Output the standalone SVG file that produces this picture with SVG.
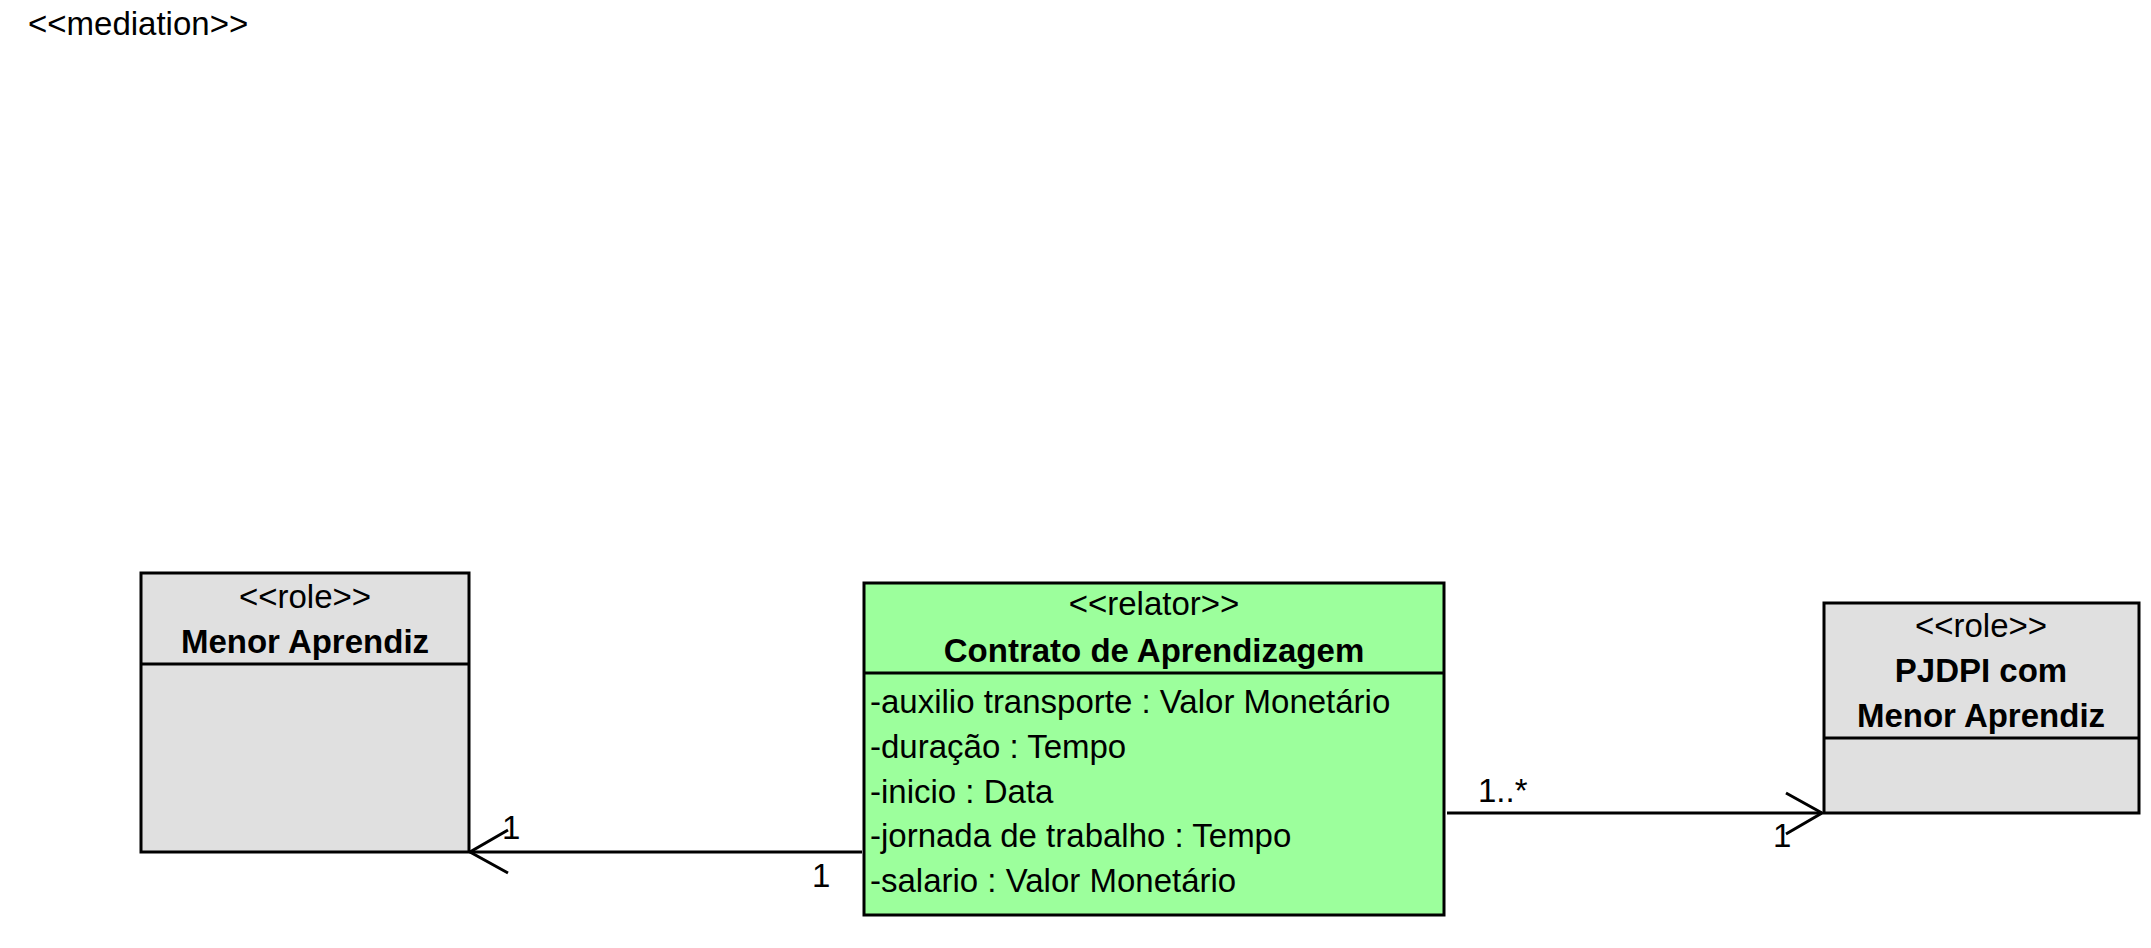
<svg xmlns="http://www.w3.org/2000/svg" width="2151" height="948" viewBox="0 0 2151 948">
<style>
text{font-family:"Liberation Sans",Arial,sans-serif;font-size:33px;fill:#000}
.c{text-anchor:middle}
.b{font-weight:bold}
.box{stroke:#000;stroke-width:3}
.role{fill:#E0E0E0}
.rel{fill:#9CFF9C}
.ln{stroke:#000;stroke-width:3;fill:none}
</style>
<rect width="2151" height="948" fill="#fff"/>
<text x="28" y="35">&lt;&lt;mediation&gt;&gt;</text>
<g id="menor-aprendiz">
<rect class="box role" x="141" y="573" width="328" height="279"/>
<line class="ln" x1="141" y1="664" x2="469" y2="664"/>
<text class="c" x="305" y="608">&lt;&lt;role&gt;&gt;</text>
<text class="c b" x="305" y="653">Menor Aprendiz</text>
</g>
<g id="contrato">
<rect class="box rel" x="864" y="583" width="580" height="332"/>
<line class="ln" x1="864" y1="673" x2="1444" y2="673"/>
<text class="c" x="1154" y="615">&lt;&lt;relator&gt;&gt;</text>
<text class="c b" x="1154" y="662">Contrato de Aprendizagem</text>
<text x="870" y="713">-auxilio transporte : Valor Monetário</text>
<text x="870" y="758">-duração : Tempo</text>
<text x="870" y="803">-inicio : Data</text>
<text x="870" y="847">-jornada de trabalho : Tempo</text>
<text x="870" y="892">-salario : Valor Monetário</text>
</g>
<g id="pjdpi">
<rect class="box role" x="1824" y="603" width="315" height="210"/>
<line class="ln" x1="1824" y1="738" x2="2139" y2="738"/>
<text class="c" x="1981" y="637">&lt;&lt;role&gt;&gt;</text>
<text class="c b" x="1981" y="682">PJDPI com</text>
<text class="c b" x="1981" y="727">Menor Aprendiz</text>
</g>
<g id="connectors">
<line class="ln" x1="862" y1="852" x2="470" y2="852"/>
<polyline class="ln" points="508,830 470,852 508,873"/>
<text x="502" y="839">1</text>
<text x="812" y="887">1</text>
<line class="ln" x1="1447" y1="813" x2="1822" y2="813"/>
<polyline class="ln" points="1786,793 1822,813 1786,834"/>
<text x="1478" y="802">1..*</text>
<text x="1773" y="847">1</text>
</g>
</svg>
